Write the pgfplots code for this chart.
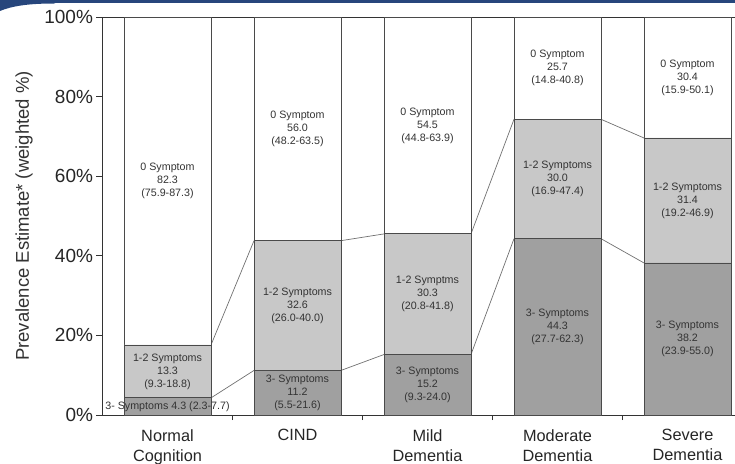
\documentclass[border=0pt]{standalone}
\usepackage{fontspec}
\setmainfont{Liberation Sans}
\usepackage{pgfplots}
\pgfplotsset{compat=1.18}
\definecolor{gthree}{HTML}{A0A0A0}
\definecolor{gtwo}{HTML}{C8C8C8}
\definecolor{edge}{HTML}{4A4A4A}
\definecolor{conn}{HTML}{707070}
\definecolor{txt}{HTML}{333333}
\definecolor{band}{HTML}{27467C}
\tikzset{lbl/.style={align=center, font=\fontsize{10.7}{13}\selectfont, text=txt}}
\begin{document}
\begin{tikzpicture}[x=1pt,y=1pt]
\begin{axis}[
  at={(102.5pt,48pt)}, anchor=south west,
  scale only axis, width=650pt, height=398pt,
  ybar stacked, bar width=87pt,
  xmin=-0.5, xmax=4.5, ymin=0, ymax=100,
  xtick={0,1,2,3,4},
  xticklabels={{Normal\\Cognition},CIND,{Mild\\Dementia},{Moderate\\Dementia},{Severe\\Dementia}},
  xticklabel style={align=center, font=\fontsize{16.3}{20}\selectfont, text=black!85, yshift=-5pt},
  major x tick style={draw=none},
  minor xtick={0.5,1.5,2.5,3.5},
  minor tick length=5pt,
  major tick length=6pt,
  tick align=outside,
  xtick pos=bottom, ytick pos=left,
  ytick={0,20,40,60,80,100},
  /pgf/number format/assume math mode=true,
  yticklabel={\pgfmathprintnumber{\tick}\%},
  yticklabel style={font=\fontsize{19}{20}\selectfont, text=black!85},
  tick style={draw=black!80, line width=0.8pt},
  axis line style={draw=black!80, line width=0.8pt},
  ylabel={Prevalence Estimate* (weighted \%)},
  every axis y label/.style={at={(axis description cs:-0.1208,0.5)}, rotate=90, anchor=center, font=\fontsize{18.5}{20}\selectfont, text=black!80},
]
\addplot[fill=gthree, draw=edge, line width=0.9pt] coordinates {(0,4.3) (1,11.2) (2,15.2) (3,44.3) (4,38.2)};
\addplot[fill=gtwo, draw=edge, line width=0.9pt] coordinates {(0,13.3) (1,32.6) (2,30.3) (3,30.0) (4,31.4)};
\addplot[fill=white, draw=edge, line width=0.9pt] coordinates {(0,82.3) (1,56.0) (2,54.5) (3,25.7) (4,30.4)};
\addplot[stack plots=false, sharp plot, draw=conn, line width=0.7pt, mark=none, unbounded coords=jump, forget plot] coordinates {
  (0.3346,4.3) (0.6654,11.2) (1,nan) (1.3346,11.2) (1.6654,15.2) (2,nan) (2.3346,15.2) (2.6654,44.3) (3,nan) (3.3346,44.3) (3.6654,38.2)};
\addplot[stack plots=false, sharp plot, draw=conn, line width=0.7pt, mark=none, unbounded coords=jump, forget plot] coordinates {
  (0.3346,17.6) (0.6654,43.8) (1,nan) (1.3346,43.8) (1.6654,45.5) (2,nan) (2.3346,45.5) (2.6654,74.3) (3,nan) (3.3346,74.3) (3.6654,69.6)};
\coordinate (a1) at (axis cs:0,2.15);
\coordinate (a2) at (axis cs:0,10.95);
\coordinate (a3) at (axis cs:0,58.75);
\coordinate (b1) at (axis cs:1,5.6);
\coordinate (b2) at (axis cs:1,27.5);
\coordinate (b3) at (axis cs:1,71.8);
\coordinate (c1) at (axis cs:2,7.6);
\coordinate (c2) at (axis cs:2,30.35);
\coordinate (c3) at (axis cs:2,72.75);
\coordinate (d1) at (axis cs:3,22.15);
\coordinate (d2) at (axis cs:3,59.3);
\coordinate (d3) at (axis cs:3,87.15);
\coordinate (e1) at (axis cs:4,19.1);
\coordinate (e2) at (axis cs:4,53.9);
\coordinate (e3) at (axis cs:4,84.8);
\end{axis}
\node[lbl] at (a1) {3- Symptoms 4.3 (2.3-7.7)};
\node[lbl] at (a2) {1-2 Symptoms\\13.3\\(9.3-18.8)};
\node[lbl] at (a3) {0 Symptom\\82.3\\(75.9-87.3)};
\node[lbl] at (b1) {3- Symptoms\\11.2\\(5.5-21.6)};
\node[lbl] at (b2) {1-2 Symptoms\\32.6\\(26.0-40.0)};
\node[lbl] at (b3) {0 Symptom\\56.0\\(48.2-63.5)};
\node[lbl] at (c1) {3- Symptoms\\15.2\\(9.3-24.0)};
\node[lbl] at (c2) {1-2 Symptms\\30.3\\(20.8-41.8)};
\node[lbl] at (c3) {0 Symptom\\54.5\\(44.8-63.9)};
\node[lbl] at (d1) {3- Symptoms\\44.3\\(27.7-62.3)};
\node[lbl] at (d2) {1-2 Symptoms\\30.0\\(16.9-47.4)};
\node[lbl] at (d3) {0 Symptom\\25.7\\(14.8-40.8)};
\node[lbl] at (e1) {3- Symptoms\\38.2\\(23.9-55.0)};
\node[lbl] at (e2) {1-2 Symptoms\\31.4\\(19.2-46.9)};
\node[lbl] at (e3) {0 Symptom\\30.4\\(15.9-50.1)};
\fill[band] (0,459.5) rectangle (735,463);
\fill[band] (0,463) -- (0,452) .. controls (12,457) and (28,459.5) .. (55,459.5) -- (55,463) -- cycle;
\pgfresetboundingbox
\path[use as bounding box] (0,0) rectangle (735,463);
\end{tikzpicture}
\end{document}
